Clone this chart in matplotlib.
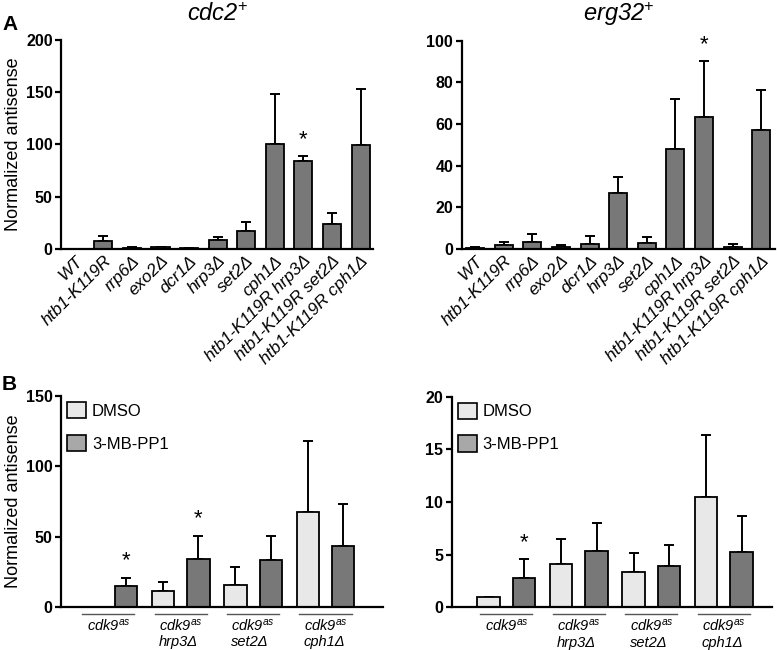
import numpy as np
import matplotlib
matplotlib.use("Agg")
import matplotlib.pyplot as plt
from matplotlib.patches import Patch
import matplotlib.transforms as mtransforms

plt.rcParams['font.family'] = ['Liberation Sans', 'DejaVu Sans']
plt.rcParams['mathtext.fontset'] = 'custom'
plt.rcParams['mathtext.it'] = 'Liberation Sans:italic'
plt.rcParams['mathtext.rm'] = 'Liberation Sans'

# ---- panel A data ----
strains = ['WT', 'htb1-K119R', 'rrp6Δ', 'exo2Δ', 'dcr1Δ', 'hrp3Δ', 'set2Δ', 'cph1Δ',
           'htb1-K119R hrp3Δ', 'htb1-K119R set2Δ', 'htb1-K119R cph1Δ']
cdc2_mean = [0, 8, 1, 1.5, 0.5, 8.6, 17, 100.5, 84, 23.6, 99.5]
cdc2_top = [0, 12.7, 1.8, 2.2, 0.8, 11.5, 26, 148, 89, 34.7, 153]
erg32_mean = [0.6, 1.9, 3.2, 0.8, 2.6, 26.7, 3.0, 47.8, 63.4, 1.1, 57.1]
erg32_top = [1.1, 3.2, 7.0, 1.8, 6.2, 34.7, 5.6, 72, 90.2, 2.2, 76.3]
a_stars = [8]

# ---- panel B data ----
groups = ['cdk9$^{as}$', 'cdk9$^{as}$\nhrp3Δ', 'cdk9$^{as}$\nset2Δ', 'cdk9$^{as}$\ncph1Δ']
treatments = ['DMSO', '3-MB-PP1']
cdc2_dmso = [0, 11.2, 15.7, 67.2]
cdc2_dmso_top = [0, 17.6, 28.5, 118]
cdc2_mb = [14.7, 34.2, 33, 43.4]
cdc2_mb_top = [20.6, 50.5, 50.3, 73.1]
erg32_dmso = [0.95, 4.08, 3.35, 10.5]
erg32_dmso_top = [0.95, 6.49, 5.13, 16.36]
erg32_mb = [2.75, 5.32, 3.89, 5.25]
erg32_mb_top = [4.56, 7.98, 5.92, 8.67]
cdc2_b_stars = [0, 1]
erg32_b_stars = [0]

DARK = '#787878'
LIGHT = '#e8e8e8'
LEG_DARK = '#a8a8a8'

fig = plt.figure(figsize=(7.77, 6.5), dpi=100)


def style_axes(ax, ymax, step):
    for s in ['top', 'right']:
        ax.spines[s].set_visible(False)
    for s in ['left', 'bottom']:
        ax.spines[s].set_linewidth(1.6)
    ax.set_ylim(0, ymax)
    ax.set_yticks(np.arange(0, ymax + 0.1, step))
    ax.tick_params(axis='y', length=4, width=1.6, labelsize=11.5, pad=2)
    ax.tick_params(axis='x', length=0)
    for lab in ax.get_yticklabels():
        lab.set_fontweight('bold')


def draw_bars(ax, x, mean, top, color, width):
    err = np.array(top) - np.array(mean)
    ax.bar(x, mean, width=width, color=color, edgecolor='black', linewidth=1.3, zorder=2)
    ax.errorbar(x, mean, yerr=[np.zeros(len(err)), err], fmt='none', ecolor='black',
                elinewidth=1.4, capsize=3.5, capthick=1.4, zorder=1)


def star(ax, x, y, dy):
    ax.annotate('*', (x, y), xytext=(0, dy), textcoords='offset points',
                ha='center', va='center', fontsize=16)


def panel_a(rect, mean, top, ymax, step, xmax, title):
    ax = fig.add_axes(rect)
    x = np.arange(len(strains))
    draw_bars(ax, x, mean, top, DARK, 0.63)
    for i in a_stars:
        star(ax, x[i], top[i], 12)
    ax.set_xlim(-0.48, xmax)
    style_axes(ax, ymax, step)
    ax.set_xticks(x)
    ax.set_xticklabels(strains, rotation=45, ha='right', va='top', rotation_mode='anchor',
                       fontstyle='italic', fontsize=12.5)
    ax.tick_params(axis='x', pad=3)
    cx = rect[0] + rect[2] / 2
    fig.text(cx, 1 - 21 / 650, title, ha='center', va='baseline', fontsize=17,
             fontstyle='italic')
    return ax


def panel_b(rect, dmso, dmso_top, mb, mb_top, stars, ymax, step, xmin, xmax):
    ax = fig.add_axes(rect)
    x = np.arange(len(groups))
    off = 0.245
    draw_bars(ax, x - off, dmso, dmso_top, LIGHT, 0.31)
    draw_bars(ax, x + off, mb, mb_top, DARK, 0.31)
    for i in stars:
        star(ax, x[i] + off, mb_top[i], 12)
    ax.set_xlim(xmin, xmax)
    style_axes(ax, ymax, step)
    ax.set_xticks([])
    trans = mtransforms.blended_transform_factory(ax.transData, ax.transAxes)
    for i, g in enumerate(groups):
        ax.plot([x[i] - 0.36, x[i] + 0.36], [-0.033, -0.033], color='#555555', lw=1,
                transform=trans, clip_on=False)
        ax.text(x[i], -0.05, g, transform=trans, ha='center', va='top',
                multialignment='left', fontstyle='italic', fontsize=10.5, linespacing=1.2)
    handles = [Patch(facecolor=LIGHT, edgecolor='black', linewidth=1.2),
               Patch(facecolor=LEG_DARK, edgecolor='black', linewidth=1.2)]
    ax.legend(handles, treatments, loc='upper left', bbox_to_anchor=(0, 1.0),
              borderaxespad=0, borderpad=0.35, frameon=False, fontsize=12,
              handlelength=1.15, handleheight=1.15, handletextpad=0.35, labelspacing=0.95)
    return ax


ax1 = panel_a([0.0785, 0.617, 0.4015, 0.3215], cdc2_mean, cdc2_top, 200, 50, 10.43,
              'cdc2$^{+}$')
ax1.set_ylabel('Normalized antisense', fontsize=13, labelpad=3)
panel_a([0.594, 0.617, 0.404, 0.3205], erg32_mean, erg32_top, 100, 20, 10.5,
        'erg32$^{+}$')

ax3 = panel_b([0.0785, 0.0666, 0.414, 0.324], cdc2_dmso, cdc2_dmso_top, cdc2_mb,
              cdc2_mb_top, cdc2_b_stars, 150, 50, -0.655, 3.79)
ax3.set_ylabel('Normalized antisense', fontsize=13, labelpad=3)
panel_b([0.5813, 0.0657, 0.4118, 0.324], erg32_dmso, erg32_dmso_top, erg32_mb,
        erg32_mb_top, erg32_b_stars, 20, 5, -0.755, 3.66)

fig.text(2 / 777, 1 - 30 / 650, 'A', fontsize=15, fontweight='bold', va='baseline')
fig.text(2 / 777, 1 - 390 / 650, 'B', fontsize=15, fontweight='bold', va='baseline')

fig.savefig('out.png', dpi=100)
